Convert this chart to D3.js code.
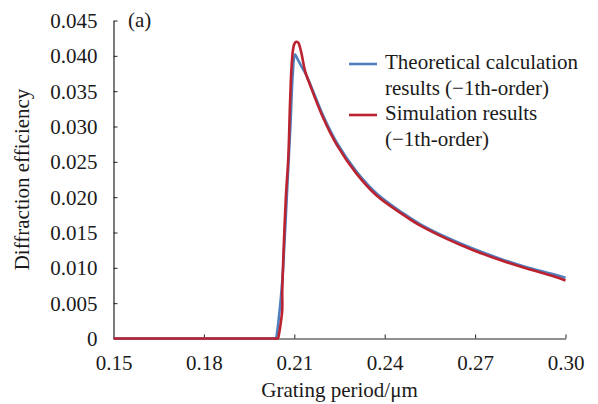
<!DOCTYPE html>
<html><head><meta charset="utf-8">
<script src="https://cdn.jsdelivr.net/npm/d3@7"></script>
<style>body{margin:0;background:#fff}svg{display:block}text{font-family:"Liberation Serif","Times New Roman","DejaVu Serif",serif;fill:#1a1a1a}</style>
</head><body>
<script>
const xTicks = [0.15, 0.18, 0.21, 0.24, 0.27, 0.30];
const yTicks = [0, 0.005, 0.010, 0.015, 0.020, 0.025, 0.030, 0.035, 0.040, 0.045];
const yTickLabels = ["0", "0.005", "0.010", "0.015", "0.020", "0.025", "0.030", "0.035", "0.040", "0.045"];
const xTickLabels = ["0.15", "0.18", "0.21", "0.24", "0.27", "0.30"];
const seriesNames = ["Theoretical calculation", "results (\u22121th-order)", "Simulation results", "(\u22121th-order)"];
const theoX = [0.15, 0.17, 0.19, 0.200, 0.2030, 0.2038, 0.2044, 0.2050, 0.2056, 0.2063, 0.2075, 0.2087, 0.2095, 0.2102, 0.2110, 0.2125, 0.2136, 0.2152, 0.2196, 0.2241, 0.2307, 0.2374, 0.2462, 0.2517, 0.2606, 0.2694, 0.2783, 0.2871, 0.2960, 0.3000];
const theoY = [0, 0, 0, 0, 0, 0, 0.0012, 0.0035, 0.0060, 0.0100, 0.0200, 0.0300, 0.0375, 0.0402, 0.0396, 0.0384, 0.0376, 0.0361, 0.0315, 0.0277, 0.0236, 0.0205, 0.0177, 0.0162, 0.0143, 0.0127, 0.0113, 0.0101, 0.0091, 0.0086];
const simX = [0.15, 0.17, 0.19, 0.200, 0.2035, 0.2045, 0.2050, 0.2055, 0.2060, 0.2060, 0.2065, 0.2072, 0.2080, 0.2086, 0.2091, 0.2097, 0.2103, 0.2108, 0.2114, 0.2119, 0.2125, 0.2130, 0.2136, 0.2152, 0.2196, 0.2241, 0.2307, 0.2374, 0.2462, 0.2517, 0.2606, 0.2694, 0.2783, 0.2871, 0.2960, 0.3000];
const simY = [0, 0, 0, 0, 0, 0, 0.0008, 0.0022, 0.0040, 0.0065, 0.0130, 0.0200, 0.0255, 0.0335, 0.0385, 0.0412, 0.0419, 0.0420, 0.0418, 0.0412, 0.0401, 0.0390, 0.0378, 0.0359, 0.0312, 0.0274, 0.0233, 0.0202, 0.0175, 0.0160, 0.0141, 0.0125, 0.0111, 0.0099, 0.0088, 0.0082];

const W = 598, H = 404;
const m = {left: 113.5, right: 32.5, top: 20.5, bottom: 65.5};
const svg = d3.select("body").append("svg").attr("width", W).attr("height", H);
const x = d3.scaleLinear().domain([0.15, 0.30]).range([m.left, W - m.right]);
const y = d3.scaleLinear().domain([0, 0.045]).range([H - m.bottom, m.top]);
const FS = 21;
const FF = "Liberation Serif, Times New Roman, DejaVu Serif, serif";

// axes
const xAxis = d3.axisBottom(x).tickValues(xTicks).tickSizeInner(-4).tickSizeOuter(0).tickFormat((d, i) => xTickLabels[i]);
const gx = svg.append("g").attr("transform", `translate(0,${y(0)})`).call(xAxis).attr("font-family", FF);
gx.select(".domain").attr("stroke", "#222");
gx.selectAll(".tick line").attr("stroke", "#222").filter(d => d === 0.15).remove();
gx.selectAll(".tick text").attr("font-size", FS).attr("fill", "#1a1a1a").attr("y", 17).attr("dy", "0.71em");

const yAxis = d3.axisLeft(y).tickValues(yTicks).tickSizeInner(-4).tickSizeOuter(0).tickFormat((d, i) => yTickLabels[i]);
const gy = svg.append("g").attr("transform", `translate(${x(0.15)},0)`).call(yAxis).attr("font-family", FF);
gy.select(".domain").attr("stroke", "#222");
gy.selectAll(".tick line").attr("stroke", "#222").filter(d => d === 0).remove();
gy.selectAll(".tick text").attr("font-size", FS).attr("fill", "#1a1a1a").attr("x", -16).attr("dy", "0.34em");
svg.selectAll(".domain").attr("stroke-width", 1.2);

// lines
const line = d3.line().x(d => x(d[0])).y(d => y(d[1])).curve(d3.curveCatmullRom.alpha(0.5));
const theo = theoX.map((v, i) => [v, theoY[i]]);
const sim = simX.map((v, i) => [v, simY[i]]);
const BLUE = "#4f7fbd", RED = "#bb2330";
svg.append("path").attr("d", line(theo)).attr("fill", "none").attr("stroke", BLUE).attr("stroke-width", 2.6);
svg.append("path").attr("d", line(sim)).attr("fill", "none").attr("stroke", RED).attr("stroke-width", 2.6);

// label (a)
svg.append("text").attr("x", 128).attr("y", 27).attr("font-size", FS).text("(a)");

// legend
const lg = svg.append("g");
lg.append("line").attr("x1", 349).attr("x2", 377).attr("y1", 64).attr("y2", 64).attr("stroke", BLUE).attr("stroke-width", 2.6);
lg.append("line").attr("x1", 349).attr("x2", 377).attr("y1", 115).attr("y2", 115).attr("stroke", RED).attr("stroke-width", 2.6);
[69, 94.5, 120, 145.5].forEach((by, i) => {
  lg.append("text").attr("x", 385).attr("y", by).attr("font-size", FS).text(seriesNames[i]);
});

// axis titles
svg.append("text").attr("x", (x(0.15) + x(0.30)) / 2).attr("y", 397).attr("text-anchor", "middle").attr("font-size", FS).text("Grating period/\u03bcm");
svg.append("text").attr("transform", `translate(29,${(y(0) + y(0.045)) / 2}) rotate(-90)`).attr("text-anchor", "middle").attr("font-size", FS).text("Diffraction efficiency");
</script>
</body></html>
